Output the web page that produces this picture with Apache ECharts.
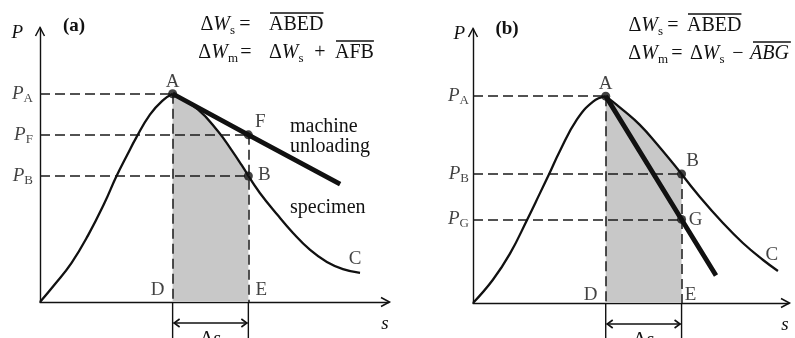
<!DOCTYPE html>
<html>
<head>
<meta charset="utf-8">
<script src="https://cdn.jsdelivr.net/npm/echarts@6/dist/echarts.min.js"></script>
<style>
  html, body { margin: 0; padding: 0; background: #fff; }
  #chart { width: 795px; height: 338px; }
</style>
</head>
<body>
<div id="chart"></div>
<script>
// (a) soft machine: unloading line flatter than specimen
const riseA = [[0, 0], [0.42, 0.64], [0.9, 1.42], [1.38, 2.44], [1.85, 3.62], [2.18, 4.56], [2.52, 5.42], [2.75, 5.98], [3.15, 6.84], [3.52, 7.36], [3.8, 7.6]]
const fallA = [[3.8, 7.6], [4.53, 7.02], [5.1, 6.23], [5.48, 5.56], [5.77, 5.01], [5.97, 4.6], [6.3, 3.98], [6.79, 3.2], [7.25, 2.52], [7.74, 1.9], [8.22, 1.46], [8.68, 1.2], [9.17, 1.06]]
const machineA = [[3.8, 7.6], [5.97, 6.1], [8.6, 4.3]]
const marksA = [[3.8, 7.6], [5.97, 6.1], [5.97, 4.6]]
const namesA = ['A', 'F', 'B']

// (b) stiff machine: unloading line steeper than specimen
const riseB = [[0, 0], [0.63, 0.85], [1.17, 1.8], [1.71, 3.03], [2.12, 4.01], [2.41, 4.71], [2.75, 5.55], [3.29, 6.7], [3.8, 7.35], [4.2, 7.55]]
const fallB = [[4.2, 7.55], [4.75, 7.04], [5.28, 6.5], [5.82, 5.8], [6.6, 4.71], [7.18, 3.87], [7.91, 2.92], [8.54, 2.19], [9.18, 1.57], [9.65, 1.17]]
const machineB = [[4.2, 7.55], [6.6, 3.05], [7.69, 1.0]]
const marksB = [[4.2, 7.55], [6.6, 4.71], [6.6, 3.05]]
const namesB = ['A', 'B', 'G']

const chart = echarts.init(document.getElementById('chart'))
const serif = '"Liberation Serif", "Times New Roman", serif'
const ink = '#111'
const shadeColor = '#c8c8c8'

const letter = { fontFamily: serif, fontSize: 19, color: ink }
const levelRich = {
  p: { fontFamily: serif, fontSize: 19, fontStyle: 'italic', color: ink, lineHeight: 22 },
  s: { fontFamily: serif, fontSize: 13, color: ink, verticalAlign: 'bottom', lineHeight: 22 }
}

function axisPair(g, yGap) {
  const line = { show: true, lineStyle: { color: ink, width: 1.4 } }
  return {
    x: {
      gridIndex: g, type: 'value', min: 0, max: 10,
      axisLine: line, axisTick: { show: false }, axisLabel: { show: false }, splitLine: { show: false },
      name: 's', nameLocation: 'end', nameGap: -4,
      nameTextStyle: { fontFamily: serif, fontSize: 19, fontStyle: 'italic', color: ink, align: 'center', verticalAlign: 'top', padding: [12, 0, 0, 0] }
    },
    y: {
      gridIndex: g, type: 'value', min: 0, max: 10,
      axisLine: line, axisTick: { show: false }, axisLabel: { show: false }, splitLine: { show: false },
      name: 'P', nameLocation: 'end', nameGap: -5,
      nameTextStyle: { fontFamily: serif, fontSize: 19, fontStyle: 'italic', color: ink, align: 'right', verticalAlign: 'middle', padding: [0, yGap, 0, 0] }
    }
  }
}

function panel(g, rise, fall, machine, marks, names, markOffsets, cOffset, dOffset, eOffset, levelGap) {
  const axes = { xAxisIndex: g, yAxisIndex: g }
  const a = marks[0]
  const sE = marks[1][0]
  const topE = Math.max(marks[1][1], marks[2][1])
  const fallTop = fall.filter(p => p[0] <= sE + 1e-6)
  const fallRest = fall.filter(p => p[0] >= sE - 1e-6)
  const curve = { color: ink, width: 2.3 }
  return [
    {
      type: 'line', ...axes, data: fallTop, smooth: 0.45, symbol: 'none', z: 1,
      lineStyle: curve, areaStyle: { color: shadeColor, opacity: 1 },
      markLine: {
        silent: true, symbol: ['none', 'none'], label: { show: false }, z: 2, animation: false,
        lineStyle: { color: '#1a1a1a', width: 1.5, type: [10, 5] },
        data: [
          ...marks.map(p => [{ coord: [0, p[1]] }, { coord: p }]),
          [{ coord: a }, { coord: [a[0], 0] }],
          [{ coord: [sE, topE] }, { coord: [sE, 0] }]
        ]
      }
    },
    { type: 'line', ...axes, data: rise, smooth: 0.45, symbol: 'none', z: 3, lineStyle: curve },
    { type: 'line', ...axes, data: fallRest, smooth: 0.45, symbol: 'none', z: 3, lineStyle: curve },
    { type: 'line', ...axes, data: machine, symbol: 'none', z: 4, lineStyle: { color: ink, width: 4.8 } },
    {
      type: 'scatter', ...axes, symbolSize: 9, itemStyle: { color: ink }, z: 5,
      data: marks.map((p, i) => ({ value: p, label: { show: true, formatter: names[i], position: 'inside', offset: markOffsets[i], ...letter } }))
    },
    {
      type: 'scatter', ...axes, symbolSize: 0.1, itemStyle: { color: 'rgba(0,0,0,0)' }, z: 5,
      data: marks.map((p, i) => ({ value: [0, p[1]], label: { show: true, position: 'left', distance: levelGap, formatter: '{p|P}{s|' + names[i] + '}', rich: levelRich } }))
    },
    {
      type: 'scatter', ...axes, symbolSize: 0.1, itemStyle: { color: 'rgba(0,0,0,0)' }, z: 5,
      label: { show: true, position: 'inside', ...letter },
      data: [
        { value: fall[fall.length - 1], label: { formatter: 'C', offset: cOffset } },
        { value: [a[0], 0], label: { formatter: 'D', offset: dOffset } },
        { value: [sE, 0], label: { formatter: 'E', offset: eOffset } }
      ]
    }
  ]
}

const axA = axisPair(0, 17)
const axB = axisPair(1, 8)

chart.setOption({
  animation: false,
  backgroundColor: '#fff',
  grid: [
    { left: 40, top: 28, width: 349, height: 274 },
    { left: 473, top: 29, width: 316, height: 274 }
  ],
  xAxis: [axA.x, axB.x],
  yAxis: [axA.y, axB.y],
  series: [
    ...panel(0, riseA, fallA, machineA, marksA, namesA, [[0, -12], [12, -13], [16, -1]], [-5, -14], [-15, -12], [13, -12], 7),
    ...panel(1, riseB, fallB, machineB, marksB, namesB, [[0, -12], [11, -13], [14, 1]], [-6, -16], [-15, -8], [9, -8], 4)
  ]
})

// annotation text, axis arrowheads and the Δs dimension marks
const ctx = document.createElement('canvas').getContext('2d')
const measure = (t, font) => { ctx.font = font; return ctx.measureText(t).width }
const eqRich = {
  d: { fontFamily: serif, fontSize: 20, color: ink, lineHeight: 24 },
  i: { fontFamily: serif, fontSize: 20, fontStyle: 'italic', color: ink, lineHeight: 24 },
  s: { fontFamily: serif, fontSize: 13, color: ink, verticalAlign: 'bottom', lineHeight: 24 },
  b: { fontFamily: serif, fontSize: 19, fontWeight: 'bold', color: ink, lineHeight: 24 }
}
const txt = (x, y, text, align) => ({
  type: 'text', x, y, silent: true,
  style: { text, rich: eqRich, fill: ink, font: '20px ' + serif, textAlign: align || 'left', textVerticalAlign: 'middle' }
})
const seg = (x1, y1, x2, y2, w) => ({ type: 'line', silent: true, shape: { x1, y1, x2, y2 }, style: { stroke: ink, lineWidth: w || 1.3 } })
const head = (pts, w) => ({ type: 'polyline', silent: true, shape: { points: pts }, style: { stroke: ink, fill: null, lineWidth: w || 1.6 } })
function over(x, y, text, italic) {
  const font = (italic ? 'italic ' : '') + '20px ' + serif
  const w = measure(text, font)
  return [
    { type: 'text', x, y, silent: true, style: { text, font, fill: ink, textAlign: 'left', textVerticalAlign: 'middle' } },
    seg(x + (italic ? 3 : 1), y - 12, x + w + (italic ? 2 : 0), y - 12, 1.3)
  ]
}
const dW = sub => '{d|Δ}{i|W}{s|' + sub + '}'

function arrows(g) {
  const [x0, y0] = chart.convertToPixel({ gridIndex: g }, [0, 0])
  const [xm, ym] = chart.convertToPixel({ gridIndex: g }, [10, 10])
  return [
    head([[x0 - 4.5, ym + 8], [x0, ym - 0.5], [x0 + 4.5, ym + 8]], 1.5),
    head([[xm - 8, y0 - 4.5], [xm + 0.5, y0], [xm - 8, y0 + 4.5]], 1.5)
  ]
}

function dimension(g, s1, s2) {
  const [x1, y0] = chart.convertToPixel({ gridIndex: g }, [s1, 0])
  const [x2] = chart.convertToPixel({ gridIndex: g }, [s2, 0])
  const ya = y0 + 21
  return [
    seg(x1, y0 + 1, x1, 338, 1.4),
    seg(x2, y0 + 1, x2, 338, 1.4),
    seg(x1 + 1, ya, x2 - 1, ya, 1.4),
    head([[x1 + 7, ya - 4], [x1 + 1.5, ya], [x1 + 7, ya + 4]]),
    head([[x2 - 7, ya - 4], [x2 - 1.5, ya], [x2 - 7, ya + 4]]),
    { type: 'text', x: (x1 + x2) / 2, y: y0 + 26, silent: true,
      style: { text: '{d|Δ}{i|s}', rich: eqRich, fill: ink, textAlign: 'center', textVerticalAlign: 'top' } }
  ]
}

chart.setOption({
  graphic: [
    txt(74, 26, '{b|(a)}', 'center'),
    txt(507, 29, '{b|(b)}', 'center'),
    // (a) equations
    txt(235, 25, dW('s'), 'right'),
    txt(245, 25, '=', 'center'),
    ...over(269, 25, 'ABED'),
    txt(238, 53, dW('m'), 'right'),
    txt(246, 53, '=', 'center'),
    txt(269, 53, dW('s'), 'left'),
    txt(320, 53, '+', 'center'),
    ...over(335, 53, 'AFB'),
    // (b) equations
    txt(663, 26, dW('s'), 'right'),
    txt(673, 26, '=', 'center'),
    ...over(687, 26, 'ABED'),
    txt(668, 54, dW('m'), 'right'),
    txt(677, 54, '=', 'center'),
    txt(690, 54, dW('s'), 'left'),
    txt(738, 54, '−', 'center'),
    ...over(750, 54, 'ABG', true),
    // curve captions
    txt(290, 127, 'machine', 'left'),
    txt(290, 147, 'unloading', 'left'),
    txt(290, 208, 'specimen', 'left'),
    ...arrows(0),
    ...arrows(1),
    ...dimension(0, marksA[0][0], marksA[1][0]),
    ...dimension(1, marksB[0][0], marksB[1][0])
  ]
})
</script>
</body>
</html>
